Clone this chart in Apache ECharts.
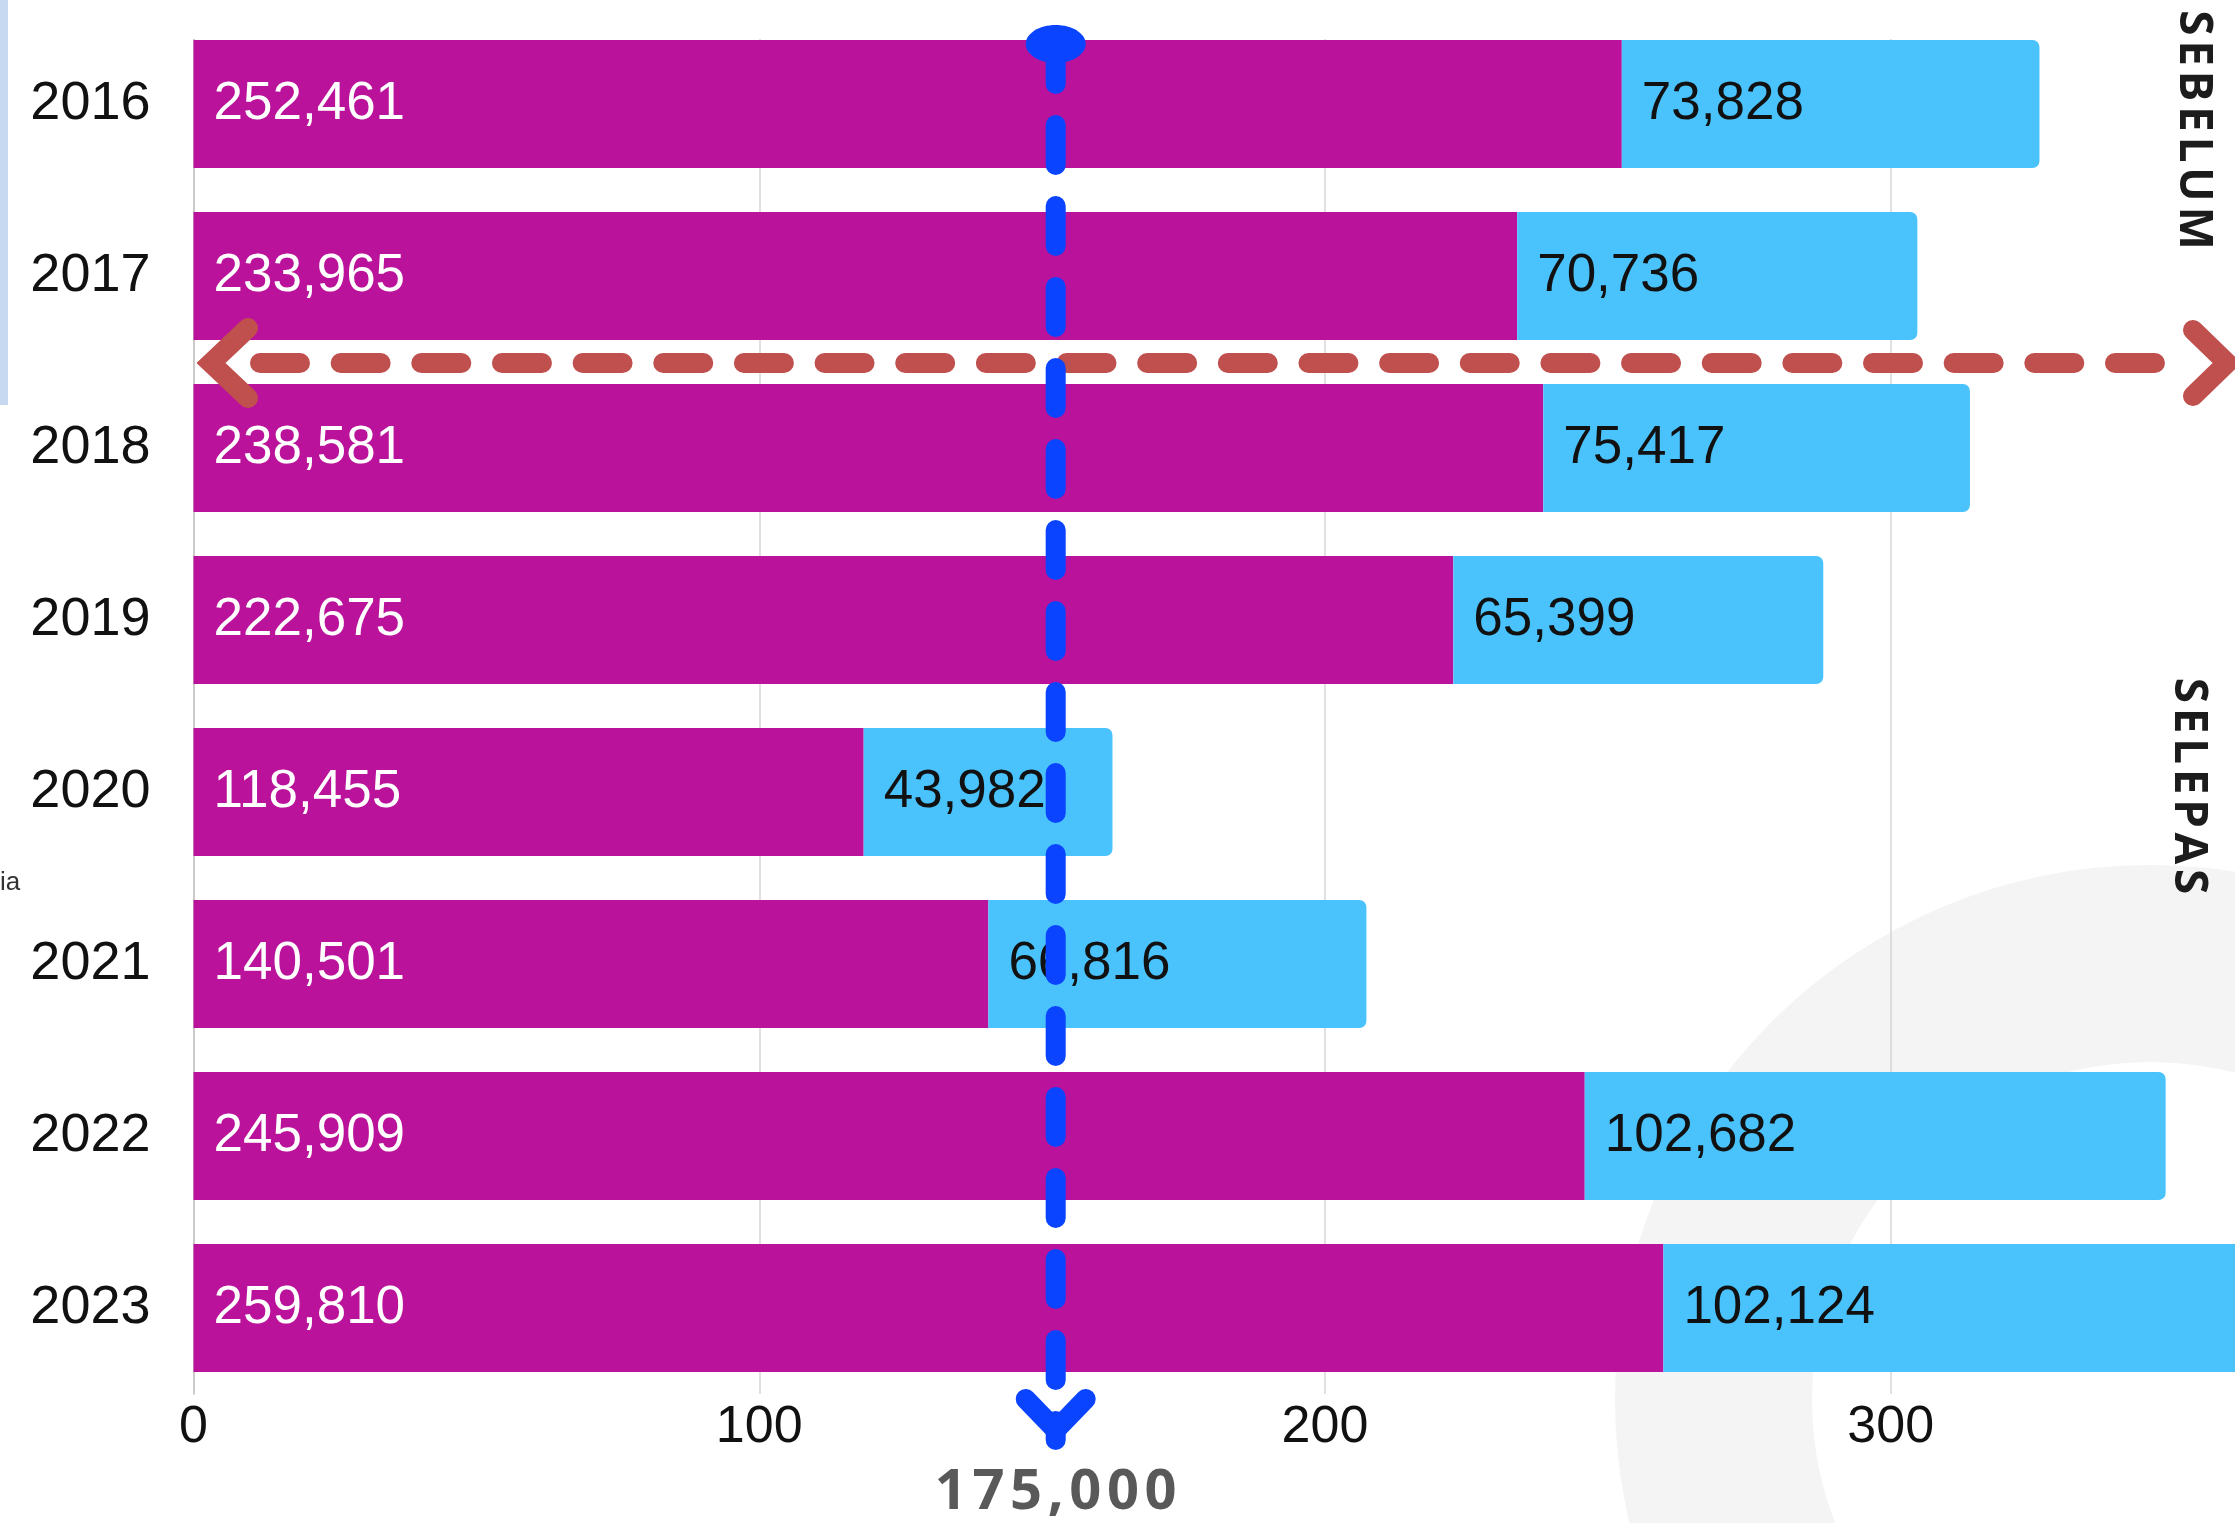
<!DOCTYPE html>
<html>
<head>
<meta charset="utf-8">
<script src="https://cdn.jsdelivr.net/npm/echarts@6/dist/echarts.min.js"></script>
<style>
html,body{margin:0;padding:0;background:#fff;}
#chart{width:2235px;height:1523px;}
</style>
</head>
<body>
<div id="chart"></div>
<script>
// ---- data ----
const years = ['2016', '2017', '2018', '2019', '2020', '2021', '2022', '2023'];
const valuesMain = [252461, 233965, 238581, 222675, 118455, 140501, 245909, 259810];
const valuesExtra = [73828, 70736, 75417, 65399, 43982, 66816, 102682, 102124];
const xTickLabels = ['0', '100', '200', '300', '400'];
const markerValue = 152.4;       // position of the blue marker on the axis (thousands)
const markerLabel = '175,000';
const sideLabels = ['SEBELUM', 'SELEPAS'];

const fmt = v => v.toLocaleString('en-US');
const spaced = s => s.split('').join('\u200A');

const chart = echarts.init(document.getElementById('chart'), null, {renderer: 'canvas'});

const labelFont = 'Liberation Sans';

chart.setOption({
  animation: false,
  backgroundColor: '#ffffff',
  grid: {left: 193.5, right: -221.5, top: 18, bottom: 129, containLabel: false, outerBoundsMode: 'none'},
  xAxis: {
    type: 'value', min: 0, max: 400, interval: 100,
    axisLine: {show: false},
    axisTick: {show: false},
    splitLine: {show: true, lineStyle: {color: '#D6D6D6', width: 1.5}},
    axisLabel: {
      margin: 8, fontSize: 52, color: '#111', fontFamily: labelFont,
      formatter: (v) => xTickLabels[Math.round(v / 100)]
    }
  },
  yAxis: {
    type: 'category', inverse: true, data: years,
    axisTick: {show: false},
    axisLine: {show: true, lineStyle: {color: '#C4C4C4', width: 1.5}},
    axisLabel: {margin: 43, fontSize: 54, color: '#111', fontFamily: labelFont}
  },
  series: [
    {
      type: 'bar', stack: 'total', barWidth: 128, z: 3,
      data: valuesMain.map(v => v / 1000),
      itemStyle: {color: '#BA129A'},
      label: {
        show: true, position: 'insideLeft', distance: 20,
        fontSize: 53, color: '#ffffff', fontFamily: labelFont,
        formatter: p => fmt(valuesMain[p.dataIndex])
      }
    },
    {
      type: 'bar', stack: 'total', barWidth: 128, z: 3,
      data: valuesExtra.map(v => v / 1000),
      itemStyle: {color: '#4AC3FD', borderRadius: [0, 7, 7, 0]},
      label: {
        show: true, position: 'insideLeft', distance: 20,
        fontSize: 53, color: '#111111', fontFamily: labelFont,
        formatter: p => fmt(valuesExtra[p.dataIndex])
      }
    }
  ]
});

const mx = chart.convertToPixel({xAxisIndex: 0}, markerValue);
const red = '#C0504D';
const blue = '#0B44FF';

chart.setOption({
  graphic: [
    // background ring
    {type: 'ring', z: -10, silent: true,
     shape: {cx: 2150, cy: 1400, r: 535, r0: 338},
     style: {fill: '#F4F4F4'}},
    // blank strip above the plot (axis lines start at the first bar)
    {type: 'rect', z: 1, silent: true,
     shape: {x: 150, y: 0, width: 2100, height: 39},
     style: {fill: '#ffffff'}},
    // left light-blue strip
    {type: 'rect', z: 1, silent: true,
     shape: {x: 0, y: 0, width: 8, height: 405},
     style: {fill: '#C6D9F1'}},
    {type: 'text', z: 1, silent: true, x: 0, y: 883,
     style: {text: 'ia', fontSize: 26, fill: '#333', fontFamily: labelFont, verticalAlign: 'middle', align: 'left'}},
    // red horizontal dashed double arrow
    {type: 'line', z: 50, silent: true,
     shape: {x1: 260, y1: 363, x2: 2158, y2: 363},
     style: {stroke: red, lineWidth: 20, lineDash: [40, 40.65], lineCap: 'round'}},
    {type: 'polyline', z: 50, silent: true,
     shape: {points: [[248, 328], [211, 363], [248, 398]]},
     style: {stroke: red, lineWidth: 20, lineCap: 'round', lineJoin: 'miter', fill: null}},
    {type: 'polyline', z: 50, silent: true,
     shape: {points: [[2193, 330], [2227, 363], [2193, 396]]},
     style: {stroke: red, lineWidth: 20, lineCap: 'round', lineJoin: 'miter', fill: null}},
    // blue vertical dashed arrow
    {type: 'line', z: 60, silent: true,
     shape: {x1: mx, y1: 44, x2: mx, y2: 1440},
     style: {stroke: blue, lineWidth: 20, lineDash: [40, 41], lineCap: 'round'}},
    {type: 'ellipse', z: 60, silent: true,
     shape: {cx: mx, cy: 44, rx: 30, ry: 19},
     style: {fill: blue}},
    {type: 'polyline', z: 60, silent: true,
     shape: {points: [[mx - 30, 1399], [mx, 1430], [mx + 30, 1399]]},
     style: {stroke: blue, lineWidth: 20, lineCap: 'round', lineJoin: 'miter', fill: null}},
    {type: 'text', z: 60, silent: true, x: mx, y: 1493,
     style: {text: spaced(markerLabel), fontSize: 56, fontWeight: 'bold', fontFamily: 'Open Sans',
             fill: '#595959', align: 'center', verticalAlign: 'middle'}},
    // side labels (rotated)
    {type: 'text', z: 40, silent: true, x: 2193, y: 130, rotation: -Math.PI / 2,
     style: {text: spaced(sideLabels[0]), fontSize: 46, fontWeight: 'bold', fontFamily: 'Open Sans',
             fill: '#1C1C1C', align: 'center', verticalAlign: 'middle'}},
    {type: 'text', z: 40, silent: true, x: 2188, y: 786, rotation: -Math.PI / 2,
     style: {text: spaced(sideLabels[1]), fontSize: 46, fontWeight: 'bold', fontFamily: 'Open Sans',
             fill: '#1C1C1C', align: 'center', verticalAlign: 'middle'}}
  ]
});
</script>
</body>
</html>
